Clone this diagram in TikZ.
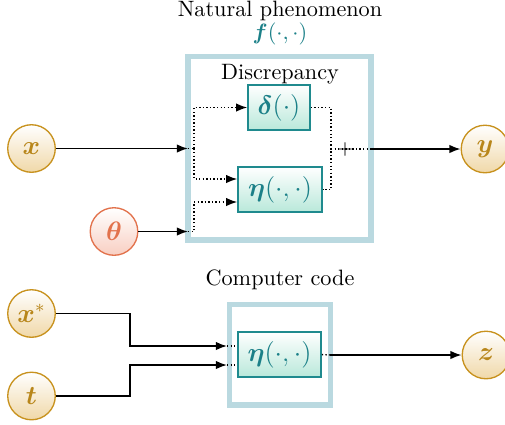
\documentclass[tikz,border=0pt]{standalone}
\usepackage{amsmath,bm}
\usetikzlibrary{arrows.meta}
\definecolor{tealtxt}{HTML}{1B8088}
\definecolor{tealbd}{HTML}{1F8A8E}
\definecolor{mint}{HTML}{B9E8DA}
\definecolor{goldbd}{HTML}{C8921E}
\definecolor{goldtxt}{HTML}{B8861A}
\definecolor{beige}{HTML}{F0D8A8}
\definecolor{coral}{HTML}{E2724C}
\definecolor{pinkf}{HTML}{F8CFC2}
\definecolor{framec}{HTML}{BAD9E0}
\tikzset{
  func/.style={draw=tealbd, line width=0.7pt, top color=white, bottom color=mint,
    text=tealtxt, minimum height=20.25pt, inner sep=0pt, font=\large},
  var/.style={circle, draw=goldbd, line width=0.6pt, top color=white, bottom color=beige,
    text=goldtxt, minimum size=21.4pt, inner sep=0pt, font=\large},
  par/.style={circle, draw=coral, line width=0.6pt, top color=white, bottom color=pinkf,
    text=coral, minimum size=21.4pt, inner sep=0pt, font=\large},
  frame/.style={draw=framec, line width=2.5pt},
  wire/.style={line width=0.7pt},
  dwire/.style={line width=0.65pt, dash pattern=on 0.6pt off 1.0pt},
  tip/.style={-{Latex[length=5pt,width=3.8pt]}},
  lbl/.style={font=\normalsize, inner sep=0pt}
}
\begin{document}
\begin{tikzpicture}[x=0.45pt,y=-0.45pt]
\useasboundingbox (0,0) rectangle (505,424);
% frames
\draw[frame] (188,56.5) rectangle (371,240);
\draw[frame] (229.5,304.5) rectangle (330.5,405);
% labels
\node[lbl] (title) at (280,10.5) {Natural phenomenon};
\node[lbl, text=tealtxt] (fn) at (280,33.5) {$\bm{f}(\cdot,\cdot)$};
\node[lbl] (disc) at (280,74) {Discrepancy};
\node[lbl] (cc) at (280,280) {Computer code};
% function boxes
\node[func, minimum width=27.9pt] (delta) at (279,107.5) {$\bm{\delta}(\cdot)$};
\node[func, minimum width=37.8pt] (eta) at (280,189.5) {$\bm{\eta}(\cdot,\cdot)$};
\node[func, minimum width=37.4pt] (eta2) at (279.5,354.5) {$\bm{\eta}(\cdot,\cdot)$};
% variables
\node[var] (x) at (31.5,148.5) {$\bm{x}$};
\node[par] (th) at (114,231.5) {$\bm{\theta}$};
\node[var] (y) at (485,149) {$\bm{y}$};
\node[var] (xs) at (31.5,313.5) {$\bm{x}^{*}$};
\node[var] (t) at (31.5,396) {$\bm{t}$};
\node[var] (z) at (486,355) {$\bm{z}$};
% coordinates
\coordinate (xin) at (188,148.5);
\coordinate (xj) at (194,148.5);
\coordinate (thin) at (188,231.5);
\coordinate (sum) at (331,149);
\coordinate (yout) at (371,149);
\coordinate (xsin) at (227,346);
\coordinate (tin) at (227,365);
\coordinate (zout) at (330,355);
% upper wiring
\draw[wire,tip] (x) -- (xin);
\draw[dwire] (xin) -- (xj);
\draw[dwire,tip] (xj) |- (delta.west);
\draw[dwire,tip] (xj) |- (eta.west |- 0,179);
\draw[wire,tip] (th) -- (thin);
\draw[dwire,tip] (thin) -| (194,202) -- (eta.west |- 0,202);
\draw[dwire] (delta.east) -| (sum) |- (eta.east);
\draw[dwire] (sum) -- (yout);
\node[inner sep=0pt, font=\small] (plus) at (345,149) {$+$};
\draw[wire,tip] (yout) -- (y);
% lower wiring
\draw[wire,tip] (xs) -- (130,313.5) |- (xsin);
\draw[wire,tip] (t) -- (130,396) |- (tin);
\draw[dwire] (xsin) -- (eta2.west |- xsin);
\draw[dwire] (tin) -- (eta2.west |- tin);
\draw[dwire] (eta2.east) -- (zout);
\draw[wire,tip] (zout) -- (z);
\end{tikzpicture}
\end{document}
